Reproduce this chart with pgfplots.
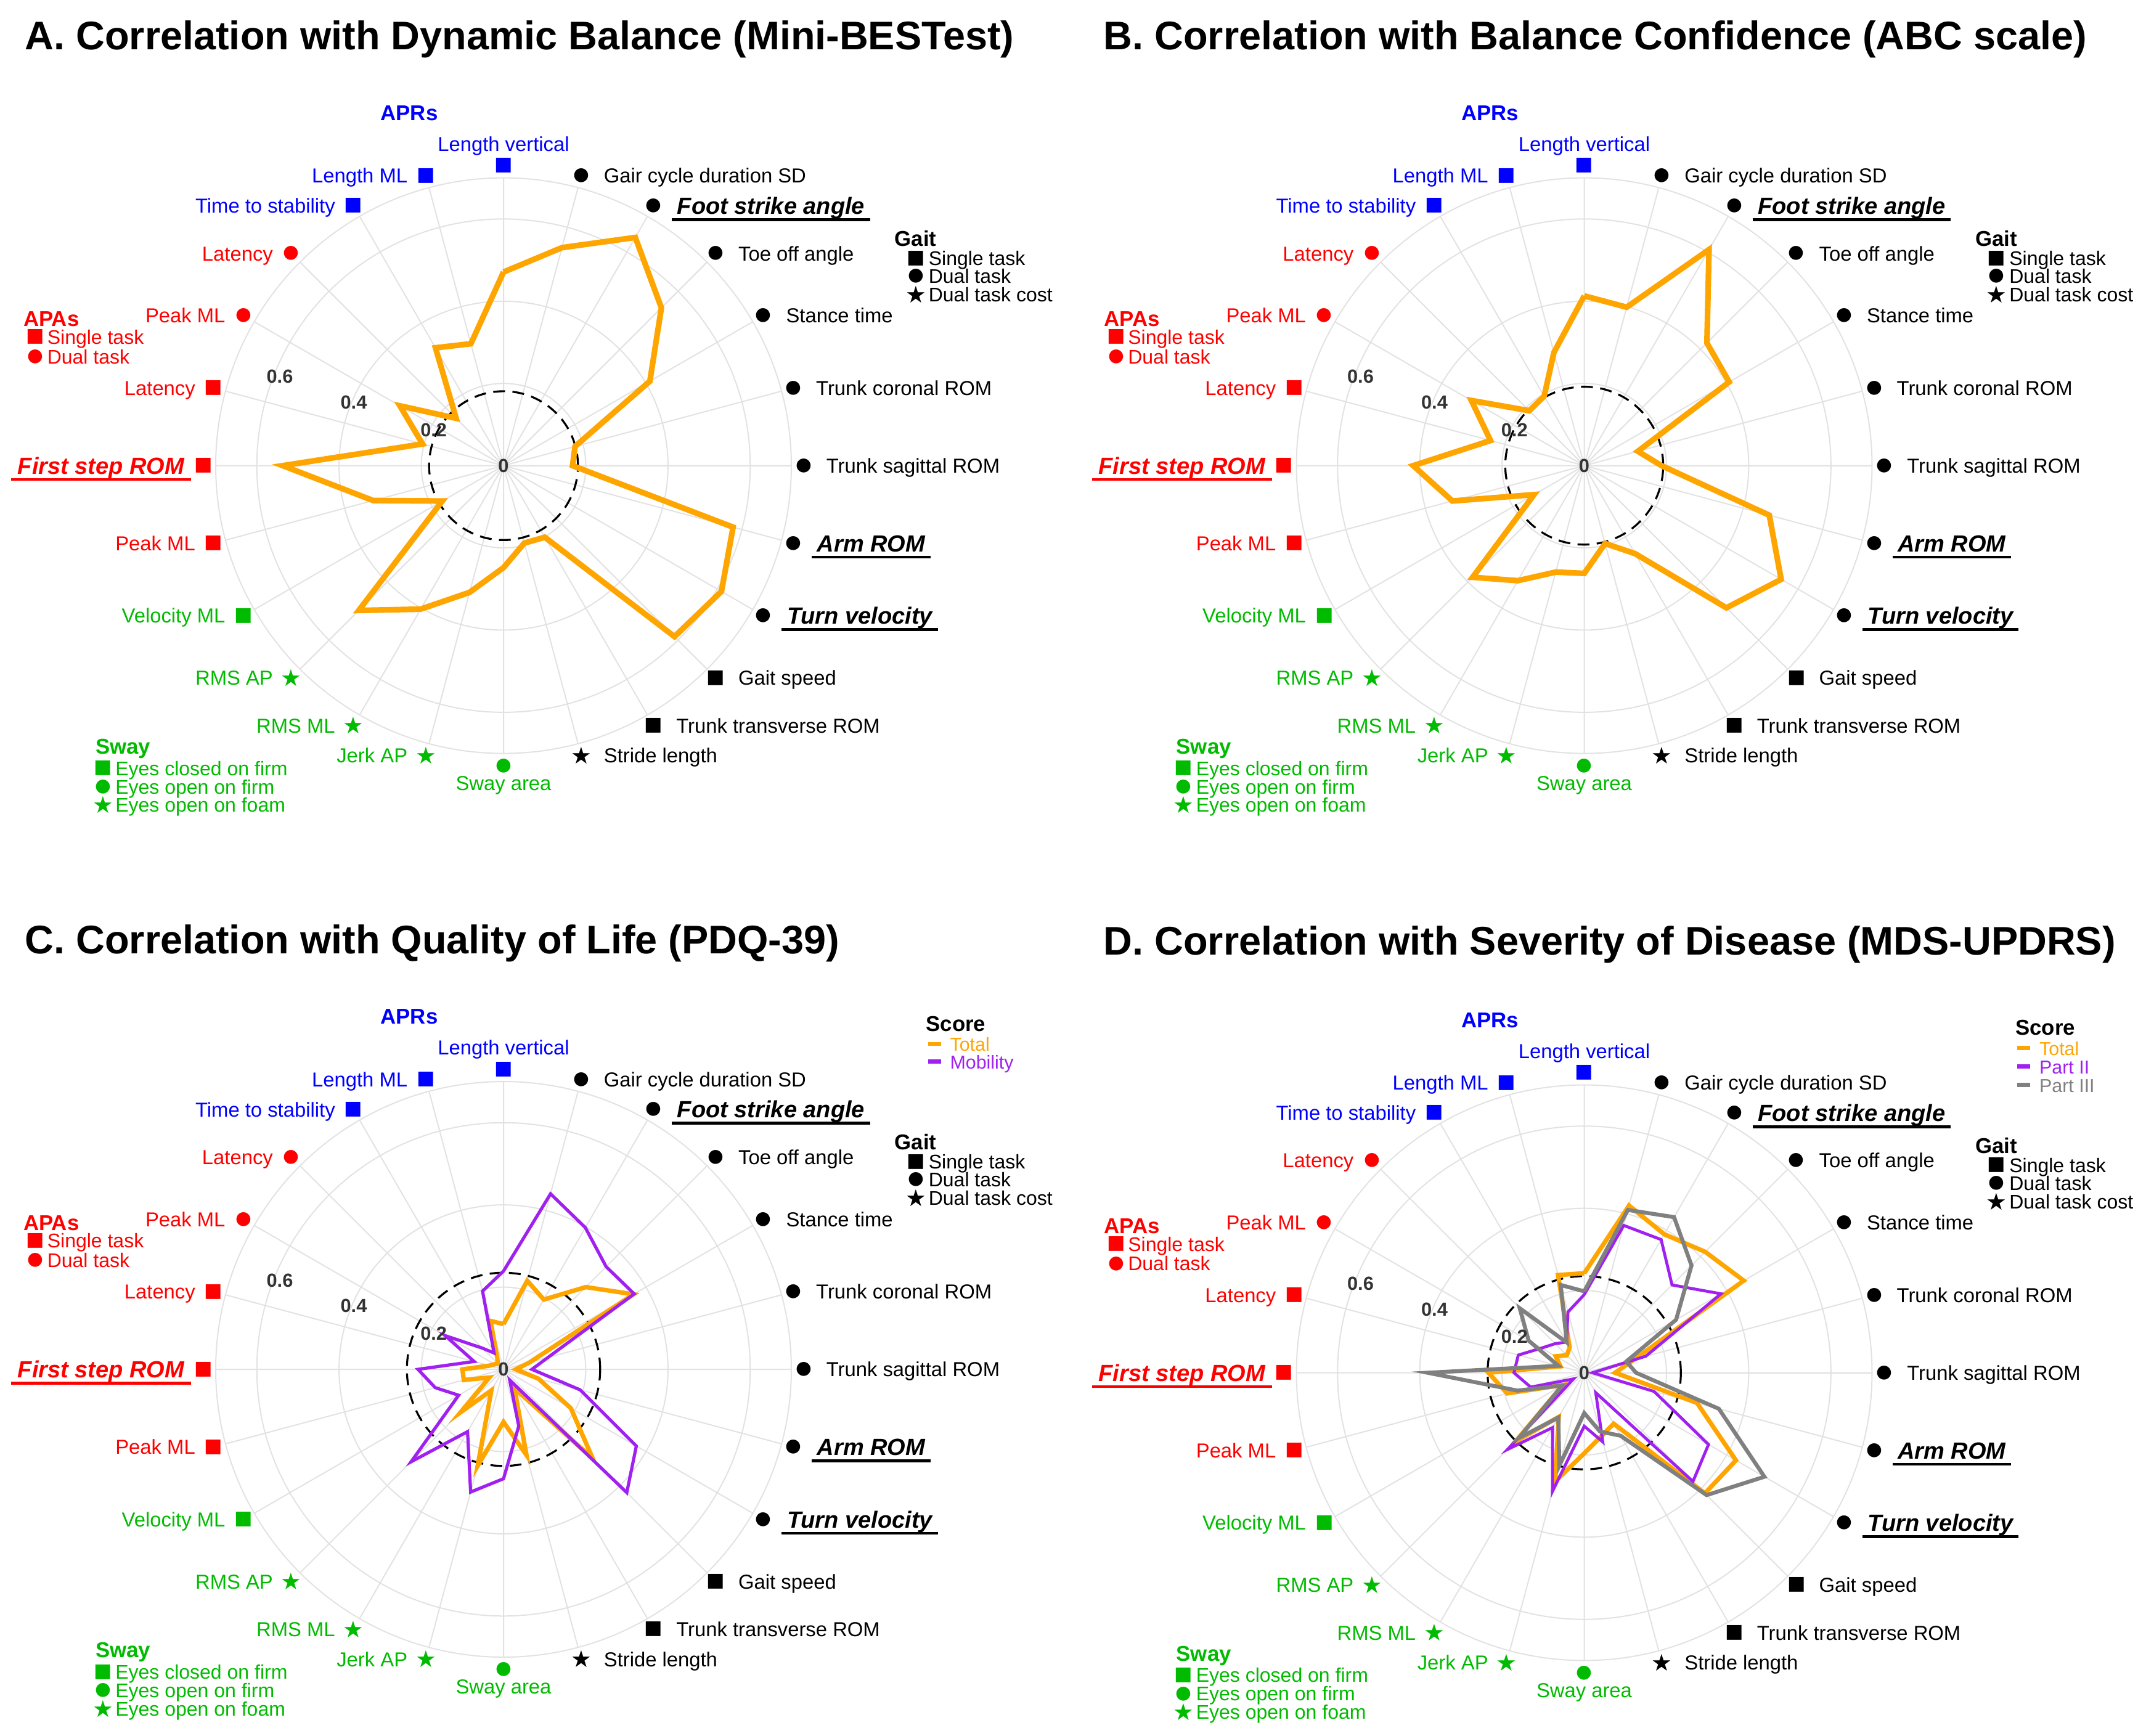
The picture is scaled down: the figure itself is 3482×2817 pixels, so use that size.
\documentclass[border=0pt]{standalone}
\usepackage{fontspec}
\setmainfont{Liberation Sans}
\newfontfamily\symf{DejaVu Sans}
\usepackage{pgfplots}
\usepgfplotslibrary{polar}
\usepackage{pgfplotstable}
\pgfplotsset{compat=1.18}

\definecolor{cOr}{HTML}{FFA500}
\definecolor{cPu}{HTML}{A020F0}
\definecolor{cGr}{HTML}{808080}
\definecolor{cBl}{HTML}{0000FF}
\definecolor{cRd}{HTML}{FF0000}
\definecolor{cGn}{HTML}{00BB00}
\definecolor{cGrid}{HTML}{E2E2E2}
\definecolor{cTick}{HTML}{333333}

% angle (polar, ccw from east) and correlation per panel
\pgfplotstableread{
ang A     B     Ct    Cm    Dt    D2    D3
90  0.471 0.413 0.110 0.239 0.242 0.190 0.198
75  0.549 0.399 0.223 0.442 0.421 0.371 0.410
60  0.641 0.607 0.196 0.398 0.389 0.374 0.437
45  0.543 0.422 0.283 0.353 0.416 0.302 0.369
30  0.411 0.407 0.365 0.367 0.448 0.384 0.258
15  0.180 0.135 0.066 0.112 0.127 0.155 0.106
0   0.168 0.188 0.030 0.069 0.075 0.020 0.126
345 0.578 0.466 0.088 0.193 0.284 0.176 0.339
330 0.612 0.553 0.189 0.373 0.426 0.349 0.506
315 0.588 0.489 0.307 0.424 0.415 0.374 0.421
300 0.201 0.247 0.053 0.030 0.143 0.056 0.177
285 0.195 0.196 0.216 0.143 0.160 0.174 0.148
270 0.248 0.262 0.128 0.266 0.196 0.130 0.098
255 0.319 0.268 0.243 0.309 0.274 0.299 0.234
240 0.403 0.323 0.059 0.175 0.124 0.154 0.126
225 0.498 0.384 0.148 0.318 0.237 0.264 0.224
210 0.172 0.141 0.040 0.126 0.060 0.030 0.062
195 0.328 0.332 0.100 0.172 0.194 0.135 0.168
180 0.537 0.416 0.100 0.208 0.233 0.171 0.381
165 0.204 0.236 0.035 0.074 0.060 0.166 0.065
150 0.291 0.317 0.025 0.164 0.080 0.120 0.156
135 0.163 0.189 0.020 0.073 0.060 0.100 0.222
120 0.331 0.195 0.030 0.046 0.071 0.086 0.085
105 0.307 0.285 0.122 0.197 0.246 0.153 0.221
90  0.471 0.413 0.110 0.239 0.242 0.190 0.198
}\radar

\pgfplotsset{radar/.style={
  scale only axis, width=233.5pt, height=233.5pt,
  xmin=0, xmax=360, ymin=0, ymax=0.7,
  xtick={0,15,...,345}, ytick={0.2,0.4,0.6},
  xticklabels={}, yticklabels={},
  grid=major, major grid style={draw=cGrid, line width=0.5pt},
  axis line style={draw=cGrid, line width=0.5pt},
  major tick length=0pt,
  clip=false, anchor=center,
  extra y tick labels={},
  extra y tick style={grid=major, major grid style={draw=black, line width=0.8pt, dash pattern=on 4.8pt off 3pt}},
}}

\tikzset{
  mk/.style={inner sep=0pt, font=\symf},
  lab/.style={inner sep=0pt, font=\fontsize{8.2}{9}\selectfont},
  blab/.style={inner sep=0pt, font=\bfseries\itshape\fontsize{9.5}{11}\selectfont},
  gtit/.style={inner sep=0pt, font=\bfseries\fontsize{8.7}{10}\selectfont},
  leg/.style={inner sep=0pt, font=\fontsize{8}{9}\selectfont},
  tck/.style={inner sep=0pt, font=\bfseries\fontsize{7.7}{9}\selectfont, text=cTick},
  ttl/.style={inner sep=0pt, font=\bfseries\fontsize{16.2}{19}\selectfont, anchor=base west},
}
\newcommand{\gsq}{{\fontsize{7.8}{8}\selectfont ■}}
\newcommand{\gci}{{\fontsize{7.4}{8}\selectfont ●}}
\newcommand{\gst}{{\fontsize{9.4}{10}\selectfont ★}}

% theta (clockwise from top), glyph, colour, text
\newcommand{\mkr}[3]{\node[mk,text=#3] (m) at ({90-#1}:487) {#2};}
\newcommand{\labR}[4]{\mkr{#1}{#2}{#3}\node[lab,text=#3,anchor=base west] at ([xshift=9pt,yshift=-2.94pt]m.center) {#4};}
\newcommand{\labL}[4]{\mkr{#1}{#2}{#3}\node[lab,text=#3,anchor=base east] at ([xshift=-7.25pt,yshift=-2.94pt]m.center) {#4};}
\newcommand{\labRB}[4]{\mkr{#1}{#2}{#3}\node[blab,text=#3,anchor=base west] (t) at ([xshift=9.4pt,yshift=-3.4pt]m.center) {#4};
  \draw[#3,line width=1.2pt] ([xshift=-2pt,yshift=-2.2pt]t.base west) -- ([xshift=2pt,yshift=-2.2pt]t.base east);}
\newcommand{\labLB}[4]{\mkr{#1}{#2}{#3}\node[blab,text=#3,anchor=base east] (t) at ([xshift=-7.5pt,yshift=-3.4pt]m.center) {#4};
  \draw[#3,line width=1.2pt] ([xshift=-2.5pt,yshift=-2.2pt]t.base west) -- ([xshift=2.5pt,yshift=-2.2pt]t.base east);}
% legend row: glyph x, text x, y (cap centre), glyph, colour, text
\newcommand{\legrow}[6]{\node[mk,text=#5] at (#1,#3) {#4};\node[leg,text=#5,anchor=base west] at ([yshift=-2.86pt]#2,#3) {#6};}

\newcommand{\panel}{%
  \node[tck] at (0,0) {0};
  \node[tck] at (-113.3,58.2) {0.2};
  \node[tck] at (-243,102.9) {0.4};
  \node[tck] at (-363,144.5) {0.6};
  \node[mk,text=cBl] at (0,487) {\gsq};
  \node[lab,text=cBl,anchor=base] at (0,510.3) {Length vertical};
  \labR{15}{\gci}{black}{Gair cycle duration SD}
  \labRB{30}{\gci}{black}{Foot strike angle}
  \labR{45}{\gci}{black}{Toe off angle}
  \labR{60}{\gci}{black}{Stance time}
  \labR{75}{\gci}{black}{Trunk coronal ROM}
  \labR{90}{\gci}{black}{Trunk sagittal ROM}
  \labRB{105}{\gci}{black}{Arm ROM}
  \labRB{120}{\gci}{black}{Turn velocity}
  \labR{135}{\gsq}{black}{Gait speed}
  \labR{150}{\gsq}{black}{Trunk transverse ROM}
  \labR{165}{\gst}{black}{Stride length}
  \node[mk,text=cGn] at (0,-487) {\gci};
  \node[lab,text=cGn,anchor=base] at (0,-526.7) {Sway area};
  \labL{195}{\gst}{cGn}{Jerk AP}
  \labL{210}{\gst}{cGn}{RMS ML}
  \labL{225}{\gst}{cGn}{RMS AP}
  \labL{240}{\gsq}{cGn}{Velocity ML}
  \labL{255}{\gsq}{cRd}{Peak ML}
  \labLB{270}{\gsq}{cRd}{First step ROM}
  \labL{285}{\gsq}{cRd}{Latency}
  \labL{300}{\gci}{cRd}{Peak ML}
  \labL{315}{\gci}{cRd}{Latency}
  \labL{330}{\gsq}{cBl}{Time to stability}
  \labL{345}{\gsq}{cBl}{Length ML}
  % group legends
  \node[gtit,text=cBl,anchor=base] at (-153,560.5) {APRs};
  \node[gtit,text=cRd,anchor=base west] at (-779.6,225.9) {APAs};
  \legrow{-759.6}{-741}{208.9}{\gsq}{cRd}{Single task}
  \legrow{-759.6}{-741}{177}{\gci}{cRd}{Dual task}
  \node[gtit,text=cGn,anchor=base west] at (-662.6,-467.5) {Sway};
  \legrow{-649.8}{-630.5}{-491}{\gsq}{cGn}{Eyes closed on firm}
  \legrow{-649.8}{-630.5}{-521}{\gci}{cGn}{Eyes open on firm}
  \legrow{-649.8}{-630.5}{-550.8}{\gst}{cGn}{Eyes open on foam}
  \node[gtit,anchor=base west] at (634,356.1) {Gait};
  \legrow{669}{689}{336.7}{\gsq}{black}{Single task}
  \legrow{669}{689}{307.7}{\gci}{black}{Dual task}
  \legrow{669}{689}{277.7}{\gst}{black}{Dual task cost}
}
% score legend row: x of dash, y base, colour, text
\newcommand{\scorerow}[4]{\node[inner sep=0pt,font=\fontsize{7.6}{9}\selectfont,text=#3,anchor=base west] at (#1,#2) {\rule[2.05pt]{5.2pt}{1.7pt}\hspace{3.75pt}#4};}

\begin{document}
\begin{tikzpicture}[x=0.25pt,y=0.25pt]
\path[use as bounding box] (0,0) rectangle (3482,-2817);

% A
\begin{polaraxis}[radar, at={(204.25pt,-188.9pt)}, extra y ticks={0.181}]
  \addplot[cOr, line width=2.3pt] table[x=ang,y=A] {\radar};
\end{polaraxis}
\begin{scope}[shift={(204.25pt,-188.9pt)}]\panel\end{scope}
\node[ttl] at (40,-80) {A. Correlation with Dynamic Balance (Mini-BESTest)};

% B
\begin{polaraxis}[radar, at={(642.625pt,-188.9pt)}, extra y ticks={0.192}]
  \addplot[cOr, line width=2.3pt] table[x=ang,y=B] {\radar};
\end{polaraxis}
\begin{scope}[shift={(642.625pt,-188.9pt)}]\panel\end{scope}
\node[ttl] at (1790,-80) {B. Correlation with Balance Confidence (ABC scale)};

% C
\begin{polaraxis}[radar, at={(204.25pt,-555.5pt)}, extra y ticks={0.235}]
  \addplot[cOr, line width=1.8pt] table[x=ang,y=Ct] {\radar};
  \addplot[cPu, line width=1.3pt] table[x=ang,y=Cm] {\radar};
\end{polaraxis}
\begin{scope}[shift={(204.25pt,-555.5pt)}]\panel
  \node[gtit,anchor=base west] at (684.7,548.5) {Score};
  \scorerow{688}{516.5}{cOr}{Total}
  \scorerow{688}{488}{cPu}{Mobility}
\end{scope}
\node[ttl] at (40,-1547) {C. Correlation with Quality of Life (PDQ-39)};

% D
\begin{polaraxis}[radar, at={(642.625pt,-556.875pt)}, extra y ticks={0.235}]
  \addplot[cOr, line width=1.8pt] table[x=ang,y=Dt] {\radar};
  \addplot[cPu, line width=1.2pt] table[x=ang,y=D2] {\radar};
  \addplot[cGr, line width=1.6pt] table[x=ang,y=D3] {\radar};
\end{polaraxis}
\begin{scope}[shift={(642.625pt,-556.875pt)}]\panel
  \node[gtit,anchor=base west] at (699,547.8) {Score};
  \scorerow{702}{515.5}{cOr}{Total}
  \scorerow{702}{485.5}{cPu}{Part II}
  \scorerow{702}{455.5}{cGr}{Part III}
\end{scope}
\node[ttl] at (1790,-1549) {D. Correlation with Severity of Disease (MDS-UPDRS)};
\end{tikzpicture}
\end{document}
